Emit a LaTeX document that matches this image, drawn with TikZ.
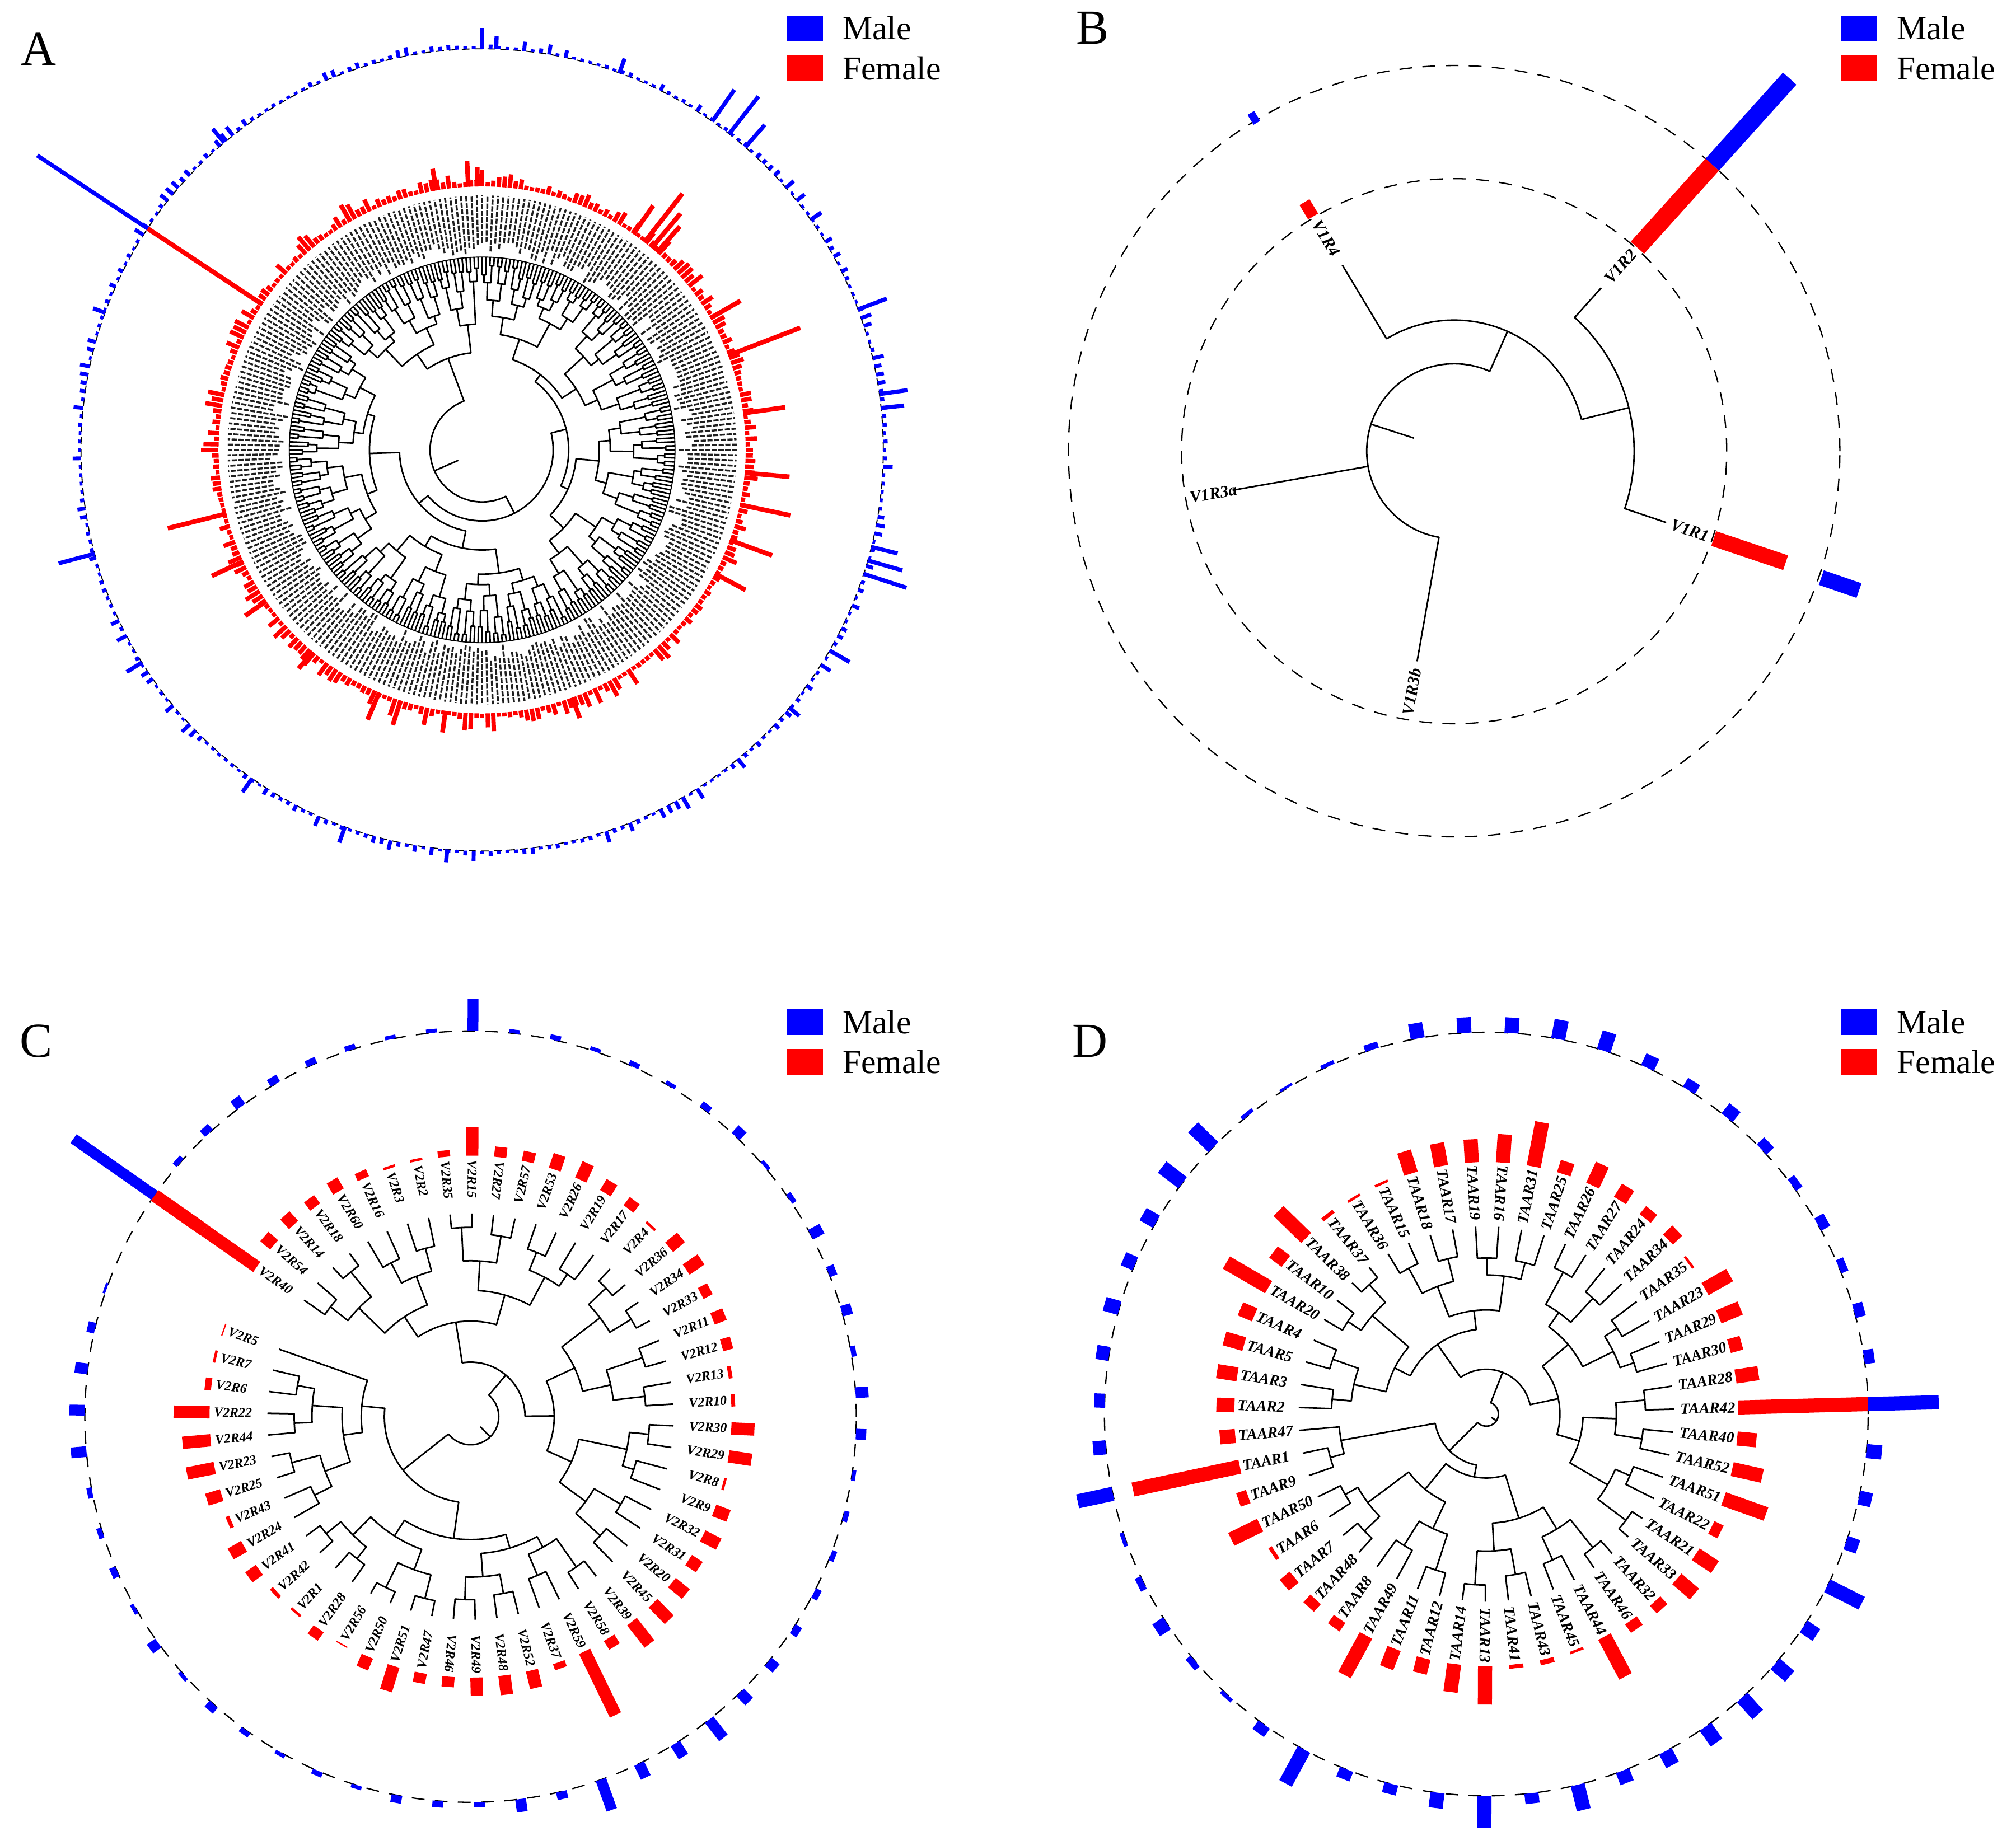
\documentclass[tikz,border=0pt]{standalone}
\usepackage{fontspec}
\setmainfont{Liberation Serif}
\makeatletter
\newcommand\drawtree[5]{%
 \pgfmathtruncatemacro\trNm{#1-1}%
 \foreach \k in {0,...,\trNm}{%
   \pgfmathsetmacro\trTmp{#2+\k*(#3)}%
   \expandafter\xdef\csname ta@0@\k\endcsname{\trTmp}%
   \expandafter\xdef\csname tr@0@\k\endcsname{#4}%
 }%
 \xdef\trN{#1}\xdef\trL{0}%
 \loop\ifnum\trN>1\relax
   \pgfmathtruncatemacro\trNext{\trL+1}%
   \pgfmathtruncatemacro\trHalf{floor(\trN/2)}%
   \pgfmathtruncatemacro\trHm{\trHalf-1}%
   \foreach \m in {0,...,\trHm}{%
     \pgfmathtruncatemacro\trIa{2*\m}%
     \pgfmathtruncatemacro\trIb{2*\m+1}%
     \edef\trAa{\csname ta@\trL @\trIa\endcsname}%
     \edef\trAb{\csname ta@\trL @\trIb\endcsname}%
     \edef\trRa{\csname tr@\trL @\trIa\endcsname}%
     \edef\trRb{\csname tr@\trL @\trIb\endcsname}%
     \pgfmathsetmacro\trRn{min(\trRa,\trRb)-(#5)*(0.35+0.65*rnd)}%
     \pgfmathsetmacro\trAn{(\trAa+\trAb)/2}%
     \draw[treeline] (\trAa:\trRa) -- (\trAa:\trRn) arc[start angle=\trAa, end angle=\trAb, radius=\trRn] -- (\trAb:\trRb);
     \expandafter\xdef\csname ta@\trNext @\m\endcsname{\trAn}%
     \expandafter\xdef\csname tr@\trNext @\m\endcsname{\trRn}%
   }%
   \pgfmathtruncatemacro\trOdd{mod(\trN,2)}%
   \ifnum\trOdd=1\relax
     \pgfmathtruncatemacro\trLast{\trN-1}%
     \expandafter\xdef\csname ta@\trNext @\trHalf\endcsname{\csname ta@\trL @\trLast\endcsname}%
     \expandafter\xdef\csname tr@\trNext @\trHalf\endcsname{\csname tr@\trL @\trLast\endcsname}%
     \pgfmathtruncatemacro\trTmpN{\trHalf+1}%
   \else
     \pgfmathtruncatemacro\trTmpN{\trHalf}%
   \fi
   \xdef\trN{\trTmpN}\xdef\trL{\trNext}%
 \repeat
 \edef\trAr{\csname ta@\trL @0\endcsname}%
 \edef\trRr{\csname tr@\trL @0\endcsname}%
 \pgfmathsetmacro\trRs{\trRr*0.5}%
 \draw[treeline] (\trAr:\trRr) -- (\trAr:\trRs);
}
\makeatother
\newcommand\rbar[5]{\draw[line width=#4, #5] (#1:#2) -- (#1:#3);}
\definecolor{mblue}{RGB}{0,0,255}
\definecolor{fred}{RGB}{255,0,0}
\begin{document}
\begin{tikzpicture}[x=0.5pt,y=0.5pt,
  treeline/.style={line width=0.6pt, line join=round, black},
  dring/.style={dash pattern=on 5pt off 4pt, line width=0.5pt, black},
  lblB/.style={font=\fontsize{6.5}{7}\selectfont\bfseries\itshape, inner sep=0.5pt},
  lblC/.style={font=\fontsize{5.2}{6}\selectfont\bfseries\itshape, inner sep=0pt},
  lblD/.style={font=\fontsize{6}{7}\selectfont\bfseries\itshape, inner sep=0pt},
  legtxt/.style={font=\fontsize{13}{14}\selectfont, anchor=west, inner sep=0pt},
  letter/.style={font=\fontsize{19}{20}\selectfont, inner sep=0pt}]
\useasboundingbox (0,0) rectangle (1568,1428);
\fill[white] (0,0) rectangle (1568,1428);

% ---------- legends and letters ----------
\foreach \lx/\ly/\nm in {612/1406/A,1432/1406/B,612/633/C,1432/633/D}{
  \fill[mblue] (\lx,\ly-10) rectangle ++(28,20);
  \fill[fred] (\lx,\ly-41) rectangle ++(28,20);
  \node[legtxt] (male\nm) at (\lx+43,\ly) {Male};
  \node[legtxt] (fem\nm) at (\lx+43,\ly-31) {Female};
}
\node[letter] (lA) at (30,1390) {A};
\node[letter] (lB) at (850,1406) {B};
\node[letter] (lC) at (28,618) {C};
\node[letter] (lD) at (848,618) {D};

% ---------- Panel A ----------
\begin{scope}[shift={(375,1078)}]
  \pgfmathsetseed{7}
  \draw[dash pattern=on 3pt off 2pt, line width=0.4pt] (0,0) circle[radius=312];
  \drawtree{300}{90}{-1.2}{150}{15}
  \pgfmathsetseed{11}
  \foreach \i in {0,...,299}{
    \pgfmathsetmacro\ang{90-1.2*\i}
    \pgfmathsetmacro\ls{152+14*rnd}
    \draw[line width=0.75pt, black!88, dash pattern=on 2pt off 0.6pt] (\ang:\ls) -- (\ang:198);
    \pgfmathsetmacro\rl{207+1+11*rnd^2}
    \rbar{\ang}{205}{\rl}{1.7pt}{fred}
    \pgfmathsetmacro\bl{314+7*rnd^3}
    \rbar{\ang}{312}{\bl}{1.5pt}{mblue}
  }
  \draw[line width=0.4pt] (0,0) circle[radius=150];
  \foreach \ang/\rl in {146.5/312,21/265,194/252,52/253,50/240,48.5/232,55/232,-12/245,-20/240,-28/232,247/228,252/225,262/222,290/222,120/220,100/222,93/225,91/220,30/232,8/238,-5/240,205/232,215/225,230/222}{
    \rbar{\ang}{205}{\rl}{1.8pt}{fred}
  }
  \foreach \ang/\bl in {146.5/415,52/349,55/342,49/335,20.5/336,-18/347,-16/340,-14/333,195/341,90/328,88/322,8/334,6/330,-30/330,212/326,235/325,250/325,265/322,300/322,320/322,160/322,130/326,70/324,35/322}{
    \rbar{\ang}{312}{\bl}{1.6pt}{mblue}
  }
\end{scope}

% ---------- Panel B ----------
\begin{scope}[shift={(1131,1077)}]
  \draw[dring] (0,0) circle[radius=212];
  \draw[dring] (0,0) circle[radius=300];
  \draw[treeline] (66:68) arc[start angle=66,end angle=260,radius=68];
  \draw[treeline] (162:68) -- (162:33);
  \draw[treeline] (190:68) -- (190:175);
  \draw[treeline] (260:68) -- (260:166);
  \draw[treeline] (66:68) -- (66:102);
  \draw[treeline] (121:169) -- (121:102) arc[start angle=121,end angle=14,radius=102];
  \draw[treeline] (14:102) -- (14:140);
  \draw[treeline] (48:171) -- (48:140) arc[start angle=48,end angle=-18.6,radius=140] -- (-18.6:174);
  \node[lblB, rotate=301, anchor=west] (b4) at (121:210) {V1R4};
  \node[lblB, rotate=48, anchor=east] (b2) at (48:210) {V1R2};
  \node[lblB, rotate=-18.6, anchor=east] (b1) at (-18.6:210) {V1R1};
  \node[lblB, rotate=10, anchor=west] (b3a) at (190:210) {V1R3a};
  \node[lblB, rotate=80, anchor=west] (b3b) at (260:210) {V1R3b};
  \rbar{121}{213}{226}{4.5pt}{fred}
  \rbar{121}{298}{307}{3pt}{mblue}
  \rbar{48}{213}{300}{7pt}{fred}
  \rbar{48}{300}{390}{7pt}{mblue}
  \rbar{-18.6}{213}{272}{6pt}{fred}
  \rbar{-19}{302}{333}{6pt}{mblue}
\end{scope}

% ---------- Panel C ----------
\begin{scope}[shift={(366,326)}]
  \pgfmathsetseed{21}
  \draw[dring] (0,0) circle[radius=300];
  \drawtree{57}{145}{-6.15}{158}{26}
  \def\Cred{{50,10,10,8,10,6,2,2,5,22,8,8,12,14,10,8,2,12,14,8,10,8,3,3,18,18,2,12,14,10,14,18,22,8,55,5,14,15,14,8,8,20,10,1,8,2,3,10,12,3,12,22,22,28,5,2,1}}
  \def\Cblue{{77,4,6,8,6,5,4,3,3,25,3,4,3,4,3,5,8,3,4,10,6,8,4,10,8,3,4,4,5,6,8,10,18,12,12,25,6,10,4,5,6,3,4,3,4,6,3,8,3,5,4,4,12,12,10,6,2}}
  \foreach \nm [count=\j from 0] in {V2R40,V2R54,V2R14,V2R18,V2R60,V2R16,V2R3,V2R2,V2R35,V2R15,V2R27,V2R57,V2R53,V2R26,V2R19,V2R17,V2R4,V2R36,V2R34,V2R33,V2R11,V2R12,V2R13,V2R10,V2R30,V2R29,V2R8,V2R9,V2R32,V2R31,V2R20,V2R45,V2R39,V2R58,V2R59,V2R37,V2R52,V2R48,V2R49,V2R46,V2R47,V2R51,V2R50,V2R56,V2R28,V2R1,V2R42,V2R41,V2R24,V2R43,V2R25,V2R23,V2R44,V2R22,V2R6,V2R7,V2R5}{
    \pgfmathsetmacro\ang{145-6.15*\j}
    \pgfmathsetmacro\an{mod(\ang+540,360)-180}
    \pgfmathtruncatemacro\rgt{(\an>-95 && \an<80) ? 1 : 0}
    \ifnum\rgt=1
      \node[lblC, rotate=\an, anchor=east] (c\j) at (\ang:200) {\nm};
    \else
      \pgfmathsetmacro\rot{\an+180}
      \node[lblC, rotate=\rot, anchor=west] (c\j) at (\ang:200) {\nm};
    \fi
    \pgfmathsetmacro\rl{\Cred[\j]}
    \pgfmathsetmacro\rle{203+\rl}
    \rbar{\ang}{203}{\rle}{4.8pt}{fred}
    \pgfmathsetmacro\bl{\Cblue[\j]}
    \pgfmathsetmacro\ble{300+\bl}
    \rbar{\ang}{300}{\ble}{4.2pt}{mblue}
  }
  \rbar{145}{253}{300}{5pt}{fred}
\end{scope}

% ---------- Panel D ----------
\begin{scope}[shift={(1156,328)}]
  \pgfmathsetseed{33}
  \draw[dring] (0,0) circle[radius=297];
  \drawtree{51}{178}{-7.06}{146}{26}
  \def\Dred{{14,16,16,12,38,12,30,3,2,2,18,18,18,22,35,10,18,12,8,10,2,22,18,10,18,102,15,24,35,8,18,18,8,8,35,2,4,3,30,22,12,16,35,8,8,10,3,25,8,85,12}}
  \def\Dblue{{8,10,12,10,12,20,22,3,2,3,5,12,12,12,15,15,10,8,10,8,6,8,6,8,8,55,12,10,10,30,12,15,18,15,12,10,20,8,25,12,8,8,30,8,3,5,10,5,3,28,10}}
  \foreach \nm [count=\j from 0] in {TAAR2,TAAR3,TAAR5,TAAR4,TAAR20,TAAR10,TAAR38,TAAR37,TAAR36,TAAR15,TAAR18,TAAR17,TAAR19,TAAR16,TAAR31,TAAR25,TAAR26,TAAR27,TAAR24,TAAR34,TAAR35,TAAR23,TAAR29,TAAR30,TAAR28,TAAR42,TAAR40,TAAR52,TAAR51,TAAR22,TAAR21,TAAR33,TAAR32,TAAR46,TAAR44,TAAR45,TAAR43,TAAR41,TAAR13,TAAR14,TAAR12,TAAR11,TAAR49,TAAR8,TAAR48,TAAR7,TAAR6,TAAR50,TAAR9,TAAR1,TAAR47}{
    \pgfmathsetmacro\ang{178-7.06*\j}
    \pgfmathsetmacro\an{mod(\ang+540,360)-180}
    \pgfmathtruncatemacro\rgt{(\an>-95 && \an<80) ? 1 : 0}
    \ifnum\rgt=1
      \node[lblD, rotate=\an, anchor=east] (d\j) at (\ang:194) {\nm};
    \else
      \pgfmathsetmacro\rot{\an+180}
      \node[lblD, rotate=\rot, anchor=west] (d\j) at (\ang:194) {\nm};
    \fi
    \pgfmathsetmacro\rl{\Dred[\j]}
    \pgfmathsetmacro\rle{196+\rl}
    \rbar{\ang}{196}{\rle}{5.5pt}{fred}
    \pgfmathsetmacro\bl{\Dblue[\j]}
    \pgfmathsetmacro\ble{297+\bl}
    \rbar{\ang}{297}{\ble}{5.5pt}{mblue}
  }
\end{scope}
\end{tikzpicture}
\end{document}
